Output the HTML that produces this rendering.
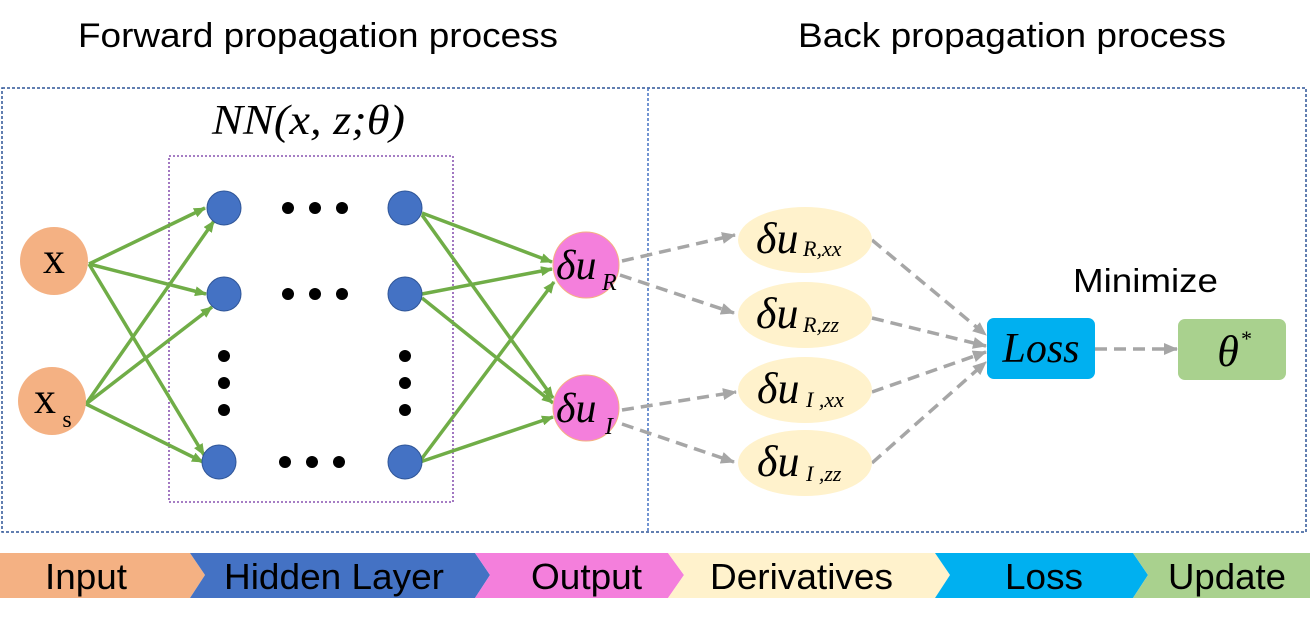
<!DOCTYPE html>
<html><head><meta charset="utf-8"><style>
body{margin:0;width:1310px;height:620px;background:#fff;overflow:hidden}
svg{display:block}
.t{font-family:"Liberation Sans",sans-serif;fill:#000}
.m{font-family:"Liberation Serif",serif;font-style:italic;fill:#000}
</style></head><body>
<svg width="1310" height="620" viewBox="0 0 1310 620" xmlns="http://www.w3.org/2000/svg">
<defs>
<marker id="g" markerWidth="12" markerHeight="10" refX="11" refY="5" orient="auto" markerUnits="userSpaceOnUse"><path d="M0,0L12,5L0,10z" fill="#70ad47"/></marker>
<marker id="gr" markerWidth="14" markerHeight="12" refX="13" refY="6" orient="auto" markerUnits="userSpaceOnUse"><path d="M0,0L14,6L0,12z" fill="#a6a6a6"/></marker>
</defs>
<text class="t" x="78" y="47" font-size="34" textLength="480" lengthAdjust="spacingAndGlyphs">Forward propagation process</text>
<text class="t" x="798" y="47" font-size="34" textLength="428" lengthAdjust="spacingAndGlyphs">Back propagation process</text>
<rect x="2" y="88" width="1304" height="444" fill="none" stroke="#2f5597" stroke-width="1.5" stroke-dasharray="3,2"/>
<line x1="648" y1="88" x2="648" y2="532" stroke="#4472c4" stroke-width="1.5" stroke-dasharray="3,2"/>
<rect x="169" y="156" width="284" height="346" fill="none" stroke="#7030a0" stroke-width="1.3" stroke-dasharray="2,2"/>
<text class="m" x="212" y="134" font-size="42" textLength="193" lengthAdjust="spacingAndGlyphs">NN(x, z;θ)</text>
<g stroke="#70ad47" stroke-width="3.5" fill="none" marker-end="url(#g)">
<line x1="89" y1="264" x2="205" y2="208"/>
<line x1="89" y1="264" x2="206" y2="294"/>
<line x1="89" y1="264" x2="204" y2="455"/>
<line x1="86" y1="404" x2="214" y2="221"/>
<line x1="86" y1="404" x2="212" y2="307"/>
<line x1="86" y1="404" x2="203" y2="462"/>
<line x1="422" y1="213" x2="552" y2="262"/>
<line x1="422" y1="215" x2="553" y2="398"/>
<line x1="422" y1="294" x2="552" y2="269"/>
<line x1="422" y1="298" x2="553" y2="403"/>
<line x1="420" y1="461" x2="554" y2="282"/>
<line x1="420" y1="462" x2="553" y2="417"/>
</g>
<circle cx="54" cy="261" r="34" fill="#f4b183"/>
<circle cx="52" cy="401" r="34" fill="#f4b183"/>
<text x="54" y="273" font-family="Liberation Serif,serif" font-size="44" text-anchor="middle">x</text>
<text x="45" y="413" font-family="Liberation Serif,serif" font-size="44" text-anchor="middle">x</text>
<text x="67" y="427" font-family="Liberation Serif,serif" font-size="24" text-anchor="middle">s</text>
<g fill="#4472c4" stroke="#2f5597" stroke-width="1">
<circle cx="224" cy="208" r="17"/><circle cx="224" cy="294" r="17"/><circle cx="219" cy="462" r="17"/>
<circle cx="405" cy="208" r="17"/><circle cx="405" cy="294" r="17"/><circle cx="405" cy="462" r="17"/>
</g>
<g fill="#000">
<circle cx="288" cy="208" r="6"/><circle cx="315" cy="208" r="6"/><circle cx="342" cy="208" r="6"/>
<circle cx="288" cy="294" r="6"/><circle cx="315" cy="294" r="6"/><circle cx="342" cy="294" r="6"/>
<circle cx="285" cy="462" r="6"/><circle cx="312" cy="462" r="6"/><circle cx="339" cy="462" r="6"/>
<circle cx="224" cy="356" r="6"/><circle cx="224" cy="383" r="6"/><circle cx="224" cy="410" r="6"/>
<circle cx="405" cy="356" r="6"/><circle cx="405" cy="383" r="6"/><circle cx="405" cy="410" r="6"/>
</g>
<g stroke="#a6a6a6" stroke-width="3.5" stroke-dasharray="12,7" fill="none" marker-end="url(#gr)">
<line x1="622" y1="261" x2="735" y2="235"/>
<line x1="620" y1="275" x2="734" y2="313"/>
<line x1="622" y1="410" x2="736" y2="392"/>
<line x1="622" y1="424" x2="734" y2="462"/>
<line x1="872" y1="240" x2="986" y2="335"/>
<line x1="872" y1="318" x2="986" y2="346"/>
<line x1="872" y1="392" x2="986" y2="352"/>
<line x1="872" y1="463" x2="986" y2="362"/>
<line x1="1095" y1="349" x2="1177" y2="349"/>
</g>
<circle cx="586" cy="265" r="33" fill="#f47fdc" stroke="#f4b183" stroke-width="1"/>
<circle cx="586" cy="408" r="33" fill="#f47fdc" stroke="#f4b183" stroke-width="1"/>
<text class="m" x="556" y="279" font-size="42">δu</text><text class="m" x="602" y="290" font-size="24">R</text>
<text class="m" x="556" y="422" font-size="42">δu</text><text class="m" x="605" y="434" font-size="24">I</text>
<g fill="#fff2cc">
<ellipse cx="805" cy="240" rx="67" ry="33"/><ellipse cx="805" cy="315" rx="67" ry="33"/>
<ellipse cx="805" cy="390" rx="67" ry="33"/><ellipse cx="805" cy="463" rx="67" ry="33"/>
</g>
<text class="m" x="756" y="253" font-size="44">δu</text><text class="m" x="803" y="256" font-size="22">R,xx</text>
<text class="m" x="756" y="328" font-size="44">δu</text><text class="m" x="803" y="332" font-size="22">R,zz</text>
<text class="m" x="757" y="403" font-size="44">δu</text><text class="m" x="806" y="407" font-size="22">I ,xx</text>
<text class="m" x="757" y="476" font-size="44">δu</text><text class="m" x="806" y="481" font-size="22">I ,zz</text>
<rect x="987" y="318" width="108" height="61" rx="7" fill="#00b0f0"/>
<text class="m" x="1041" y="362" font-size="42" text-anchor="middle">Loss</text>
<rect x="1178" y="319" width="108" height="61" rx="7" fill="#a9d18e"/>
<text class="m" x="1228" y="366" font-size="44" text-anchor="middle">θ</text><text class="m" x="1240" y="346" font-size="22">*</text>
<text class="t" x="1073" y="292" font-size="33" textLength="145" lengthAdjust="spacingAndGlyphs">Minimize</text>
<polygon points="0,553 190,553 205,575 190,598 0,598" fill="#f4b183"/>
<polygon points="190,553 475,553 490,575 475,598 190,598 205,575" fill="#4472c4"/>
<polygon points="475,553 668,553 684,575 668,598 475,598 490,575" fill="#f47fdc"/>
<polygon points="668,553 935,553 950,575 935,598 668,598 684,575" fill="#fff2cc"/>
<polygon points="935,553 1133,553 1148,575 1133,598 935,598 950,575" fill="#00b0f0"/>
<polygon points="1133,553 1310,553 1310,598 1133,598 1148,575" fill="#a9d18e"/>
<g class="t" font-size="36">
<text x="45" y="589" textLength="82" lengthAdjust="spacingAndGlyphs">Input</text>
<text x="224" y="589" textLength="220" lengthAdjust="spacingAndGlyphs">Hidden Layer</text>
<text x="531" y="589" textLength="111" lengthAdjust="spacingAndGlyphs">Output</text>
<text x="710" y="589" textLength="183" lengthAdjust="spacingAndGlyphs">Derivatives</text>
<text x="1005" y="589" textLength="78" lengthAdjust="spacingAndGlyphs">Loss</text>
<text x="1168" y="589" textLength="118" lengthAdjust="spacingAndGlyphs">Update</text>
</g>
</svg>
</body></html>
